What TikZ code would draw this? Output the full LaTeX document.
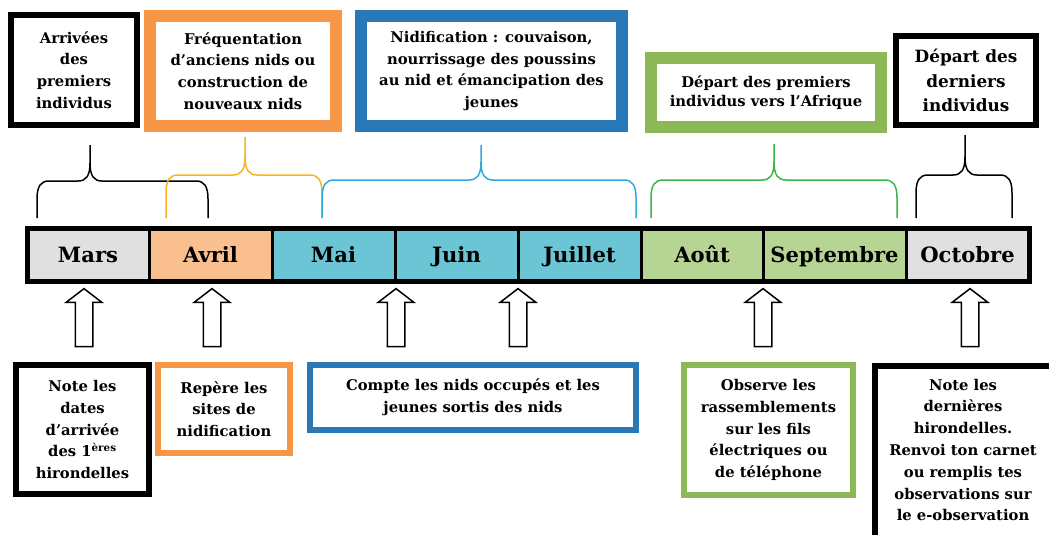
\documentclass[tikz,border=0pt]{standalone}
\usepackage{fontspec}
\setmainfont{DejaVu Serif}
\newdimen\unitpx \unitpx=0.025cm
\definecolor{orangecadre}{HTML}{F79646}
\definecolor{bleucadre}{HTML}{2A79B6}
\definecolor{vertcadre}{HTML}{8CB855}
\definecolor{gris}{HTML}{E0E0E0}
\definecolor{peche}{HTML}{F9BF8F}
\definecolor{cyan}{HTML}{6CC5D5}
\definecolor{vertmois}{HTML}{B6D595}
\definecolor{jaune}{HTML}{F6B51E}
\definecolor{bleuclair}{HTML}{2FA8E0}
\definecolor{vertclair}{HTML}{3AB54A}
\tikzset{
  cadre/.style = {align=center, inner sep=0pt, text centered, fill=white,
    font=\fontsize{10.5}{15.5}\selectfont\bfseries},
  cadre_n/.style = {cadre, draw=black, line width=6\unitpx},% cadre noir
  cadre_o/.style = {cadre, draw=orangecadre, line width=12\unitpx},% cadre orange epais
  cadre_b/.style = {cadre, draw=bleucadre, line width=12\unitpx},% cadre bleu epais
  cadre_v/.style = {cadre, draw=vertcadre, line width=12\unitpx},% cadre vert epais
  mois/.style = {draw=black, line width=3\unitpx, outer sep=0pt,
    minimum height=53\unitpx, minimum width=123\unitpx, inner sep=0pt,
    text height=2.3ex, text depth=.3ex,
    font=\fontsize{15}{18}\selectfont\bfseries},
  fleche/.style = {single arrow, draw=black, fill=white, line width=1.5\unitpx,
    shape border rotate=90, minimum height=58\unitpx, minimum width=34\unitpx,
    inner sep=8\unitpx, single arrow head extend=9\unitpx,
    single arrow tip angle=105}% fleche blanche vers le haut
}
\usetikzlibrary{positioning,shapes.arrows}
% accolade : couleur, x gauche, x droite, x pointe, y horizontale, y sommet
\newcommand{\accolade}[6]{%
  \draw[#1, line width=1.5\unitpx] (#2,218) -- (#2,#5+18)
    .. controls (#2,#5+5) and (#2+4,#5) .. (#2+12,#5) -- (#4-12,#5)
    .. controls (#4-4,#5) and (#4,#5-5) .. (#4,#5-18) -- (#4,#6)
    (#4,#5-18) .. controls (#4,#5-5) and (#4+4,#5) .. (#4+12,#5) -- (#3-12,#5)
    .. controls (#3-4,#5) and (#3,#5+5) .. (#3,#5+18) -- (#3,218);
}

\begin{document}
\begin{tikzpicture}[x=0.025cm, y=-0.025cm]
\useasboundingbox (0,0) rectangle (1049,534);
\clip (0,0) rectangle (1049,534);

% frise des mois
\node [mois, fill=gris, minimum width=122\unitpx] (mars) at (88,255) {Mars};
\node [mois, fill=peche, right=0pt of mars] (avril) {Avril};
\node [mois, fill=cyan, right=0pt of avril] (mai) {Mai};
\node [mois, fill=cyan, right=0pt of mai] (juin) {Juin};
\node [mois, fill=cyan, right=0pt of juin] (juillet) {Juillet};
\node [mois, fill=vertmois, right=0pt of juillet, minimum width=122\unitpx] (aout) {Août};
\node [mois, fill=vertmois, right=0pt of aout, minimum width=143\unitpx] (septembre) {Septembre};
\node [mois, fill=gris, right=0pt of septembre] (octobre) {Octobre};
\draw [line width=5\unitpx] (mars.north west) rectangle (octobre.south east);

% periodes
\node [cadre_n, minimum width=126\unitpx, minimum height=110\unitpx] (arrivee) at (74,70)
  {Arrivées\\des\\premiers\\individus};
\node [cadre_o, minimum width=186\unitpx, minimum height=110\unitpx] (frequentation) at (243,71)
  {Fréquentation\\d’anciens nids ou\\construction de\\nouveaux nids};
\node [cadre_b, minimum width=261\unitpx, minimum height=110\unitpx] (nidification) at (491.5,71)
  {Nidification : couvaison,\\nourrissage des poussins\\au nid et émancipation des\\jeunes};
\node [cadre_v, minimum width=230\unitpx, minimum height=69\unitpx, font=\fontsize{10.5}{13}\selectfont\bfseries] (depart) at (766,92.5)
  {Départ des premiers\\individus vers l’Afrique};
\node [cadre_n, minimum width=140\unitpx, minimum height=89\unitpx, font=\fontsize{12}{17.5}\selectfont\bfseries] (derniers) at (966,80.5)
  {Départ des\\derniers\\individus};

\accolade{black}{37}{208}{90}{181}{145}
\accolade{jaune}{166}{322}{245}{175}{137}
\accolade{bleuclair}{322}{636}{481}{180}{145}
\accolade{vertclair}{651}{897}{774}{180}{144}
\accolade{black}{916}{1012}{965}{175}{135}

% observations
\node [fleche] (fl_mars) at (84,321) {};
\node [fleche] (fl_avril) at (212,321) {};
\node [fleche] (fl_mai) at (396,321) {};
\node [fleche] (fl_juin) at (518,321) {};
\node [fleche] (fl_aout) at (763,321) {};
\node [fleche] (fl_octobre) at (970,321) {};

\node [cadre_n, minimum width=133\unitpx, minimum height=129\unitpx] (obs_dates) at (82.5,429.5)
  {Note les\\dates\\d’arrivée\\des 1\textsuperscript{ères}\\hirondelles};
\node [cadre_o, line width=6\unitpx, minimum width=132\unitpx, minimum height=88\unitpx] (obs_sites) at (224,409)
  {Repère les\\sites de\\nidification};
\node [cadre_b, line width=6\unitpx, minimum width=326\unitpx, minimum height=65\unitpx] (obs_nids) at (473,397.5)
  {Compte les nids occupés et les\\jeunes sortis des nids};
\node [cadre_v, line width=6\unitpx, minimum width=169\unitpx, minimum height=130\unitpx] (obs_fils) at (768.5,430)
  {Observe les\\rassemblements\\sur les fils\\électriques ou\\de téléphone};
\node [cadre_n, minimum width=177\unitpx, minimum height=191\unitpx] (obs_fin) at (963,461.5) {};
\node [cadre, fill=none] (obs_fin_txt) at (963,450)
  {Note les\\dernières\\hirondelles.\\Renvoi ton carnet\\ou remplis tes\\observations sur\\le e-observation};
\end{tikzpicture}
\end{document}
